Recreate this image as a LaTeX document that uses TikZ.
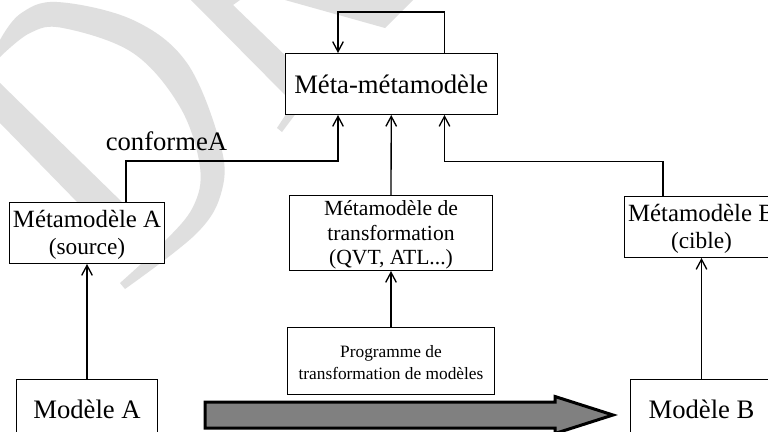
\documentclass[tikz,border=0pt]{standalone}
\usepackage{fontspec}
\setmainfont{Liberation Serif}
\usetikzlibrary{arrows.meta}
\definecolor{wm}{HTML}{DFDFDF}
\definecolor{bigfill}{HTML}{808080}
\tikzset{
  x=0.75pt,y=-0.75pt,
  box/.style={draw=black,fill=white,line width=0.75pt,inner sep=0pt,align=center,anchor=north west},
  link/.style={line width=1pt,draw=black},
  arr/.style={link,-{Straight Barb[length=7.5pt,width=8pt,line width=1pt]}}
}
\newcommand{\fs}[2]{\fontsize{#1}{#2}\selectfont}
\begin{document}
\begin{tikzpicture}
\useasboundingbox (0,0) rectangle (768,432);
\clip (0,0) rectangle (768,432);
\fill[white] (0,0) rectangle (768,432);
% watermark
\fill[wm] plot[smooth,tension=0.6] coordinates {(0,40) (20,14) (57,2) (133,20) (187,63) (220,143) (222,190) (197,233) (125,289)}
  -- (120,283) -- plot[smooth,tension=0.6] coordinates {(120,283) (163,243) (193,207) (200,167) (180,107) (133,53) (63,28) (30,33) (0,57)} -- cycle;
\fill[wm] (0,83) -- (125,205) -- (80,205) -- (0,123) -- cycle;
\fill[wm] (191,0) -- (290,100) -- (290,60) -- (233,5) -- (240,0) -- cycle;
\fill[wm] (285,0) -- (385,28) -- (413,0) -- cycle;
\fill[wm] (300,108) -- (282,132) -- (277,128) -- (290,108) -- cycle;
% boxes
\node[box,minimum width=212.5pt*0.75,minimum height=61pt*0.75,font=\fs{20}{24}] (mm) at (284.5,53) {Méta-métamodèle};
\node[box,minimum width=155pt*0.75,minimum height=61.5pt*0.75,font=\fs{18.6}{20}] (ma) at (9,201.5) {\rule{0pt}{16.5pt}Métamodèle A\\[0.3pt]{\fs{17.5}{20}(source)}};
\node[box,minimum width=203pt*0.75,minimum height=75pt*0.75,font=\fs{16.2}{18.7}] (mt) at (289,195) {\rule{0pt}{14pt}Métamodèle de\\transformation\\(QVT, ATL...)};
\node[box,minimum width=154pt*0.75,minimum height=61.5pt*0.75,font=\fs{18.6}{20}] (mb) at (624,195.5) {\rule{0pt}{16.5pt}Métamodèle B\\[0.3pt]{\fs{17.5}{20}(cible)}};
\node[box,minimum width=207pt*0.75,minimum height=67pt*0.75,font=\fs{13}{16.5}] (pg) at (287,327) {\rule{0pt}{12pt}Programme de\\transformation de modèles};
\node[box,minimum width=141pt*0.75,minimum height=60pt*0.75,font=\fs{20}{24}] (da) at (16,379) {Modèle A};
\node[box,minimum width=142pt*0.75,minimum height=60pt*0.75,font=\fs{20}{24}] (db) at (630,379) {Modèle B};
% label
\node[font=\fs{20}{24},inner sep=0pt,anchor=base west] (lbl) at (105.5,150) {conformeA};
% connectors
\coordinate (selfr) at (444.5,12);
\coordinate (selfl) at (338,12);
\coordinate (leftk) at (126,161);
\coordinate (leftj) at (338,161);
\coordinate (rightk) at (663,161.5);
\coordinate (rightj) at (444.5,161.5);
\draw[arr] (selfr |- mm.north) -- (selfr) -- (selfl) -- (selfl |- mm.north);
\draw[arr] (leftk |- ma.north) -- (leftk) -- (leftj) -- (leftj |- mm.south);
\draw[arr] (mt.north) -- (mm.south);
\draw[arr] (rightk |- mb.north) -- (rightk) -- (rightj) -- (rightj |- mm.south);
\draw[arr] (pg.north) -- (mt.south);
\draw[arr] (da.north) -- (ma.south);
\draw[arr] (db.north) -- (mb.south);
% big arrow
\draw[line width=2.25pt,fill=bigfill,miter limit=10] (205,402) -- (555,402) -- (555,396.5) -- (613,415) -- (555,433.5) -- (555,428) -- (205,428) -- cycle;
\end{tikzpicture}
\end{document}
